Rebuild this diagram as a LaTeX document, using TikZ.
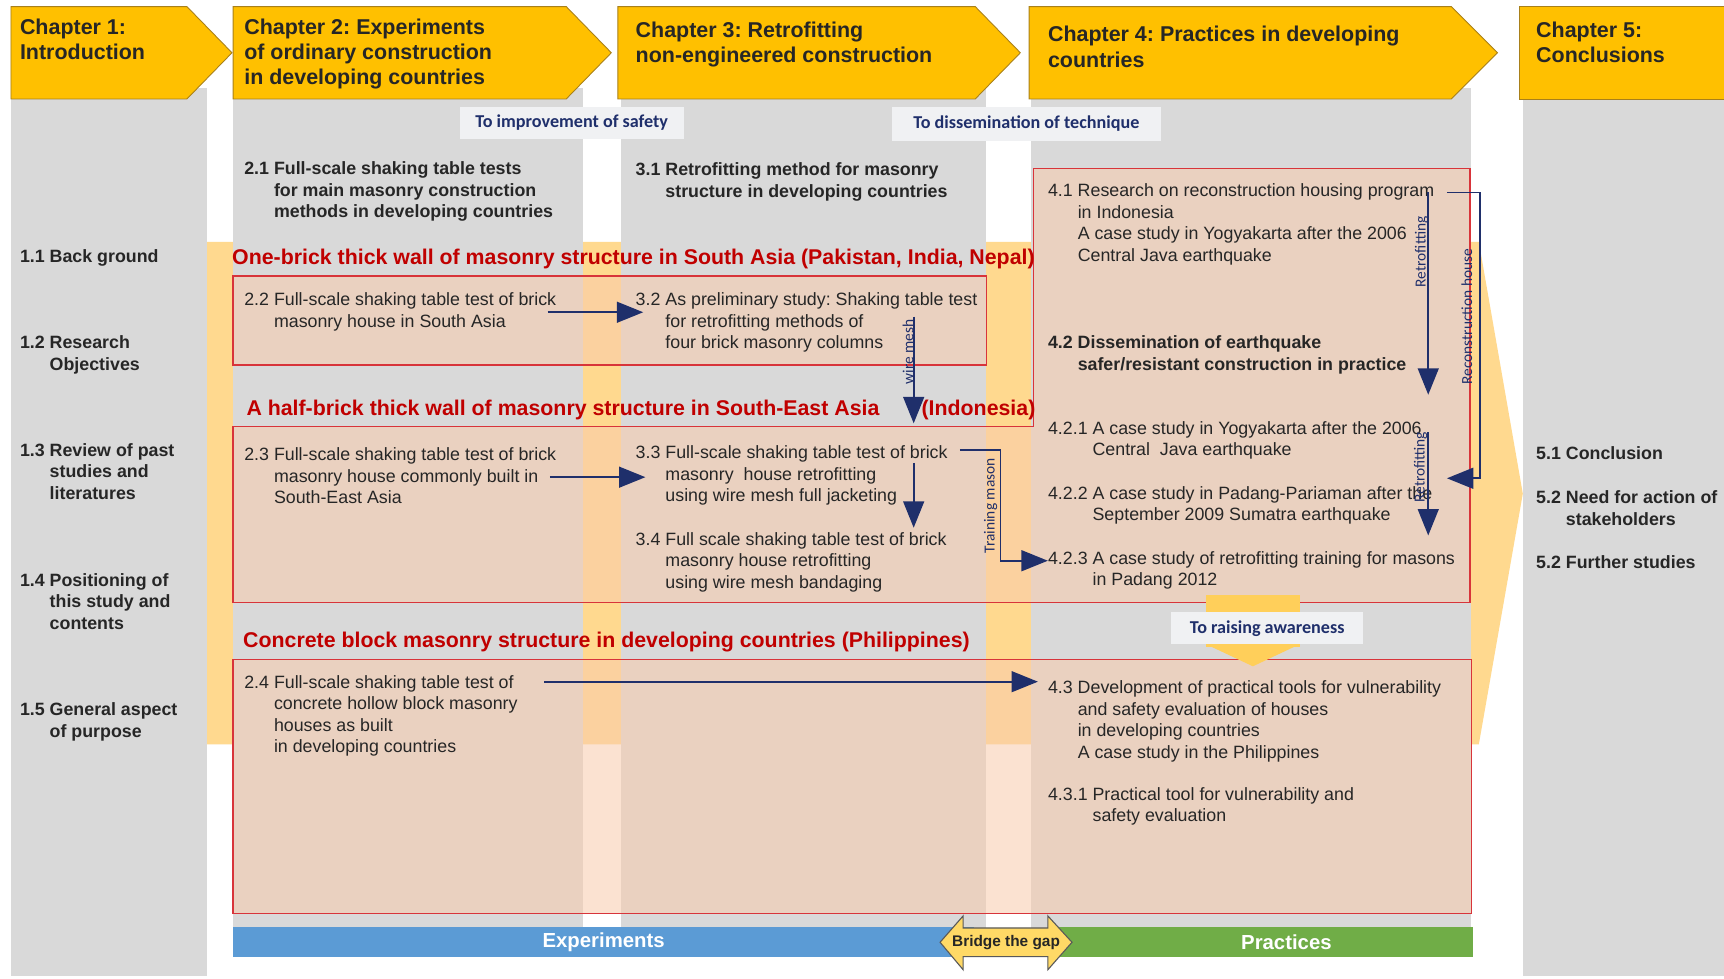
\documentclass[tikz,border=0pt]{standalone}
\usepackage{fontspec}
\setmainfont{Liberation Sans}
\newfontfamily\calib{Carlito}
\usetikzlibrary{arrows.meta}
\frenchspacing
\definecolor{gold}{HTML}{FFC000}
\definecolor{goldline}{HTML}{A8801A}
\definecolor{colgray}{HTML}{D9D9D9}
\definecolor{orangebg}{HTML}{FFD98F}
\definecolor{boxred}{HTML}{D8343A}
\definecolor{boxfill}{HTML}{F8CBAD}
\definecolor{headred}{HTML}{C00000}
\definecolor{navy}{HTML}{1F2F6B}
\definecolor{lblfill}{HTML}{F0F1F3}
\definecolor{txtc}{HTML}{262626}
\definecolor{barblue}{HTML}{5B9BD5}
\definecolor{bargreen}{HTML}{70AD47}
\definecolor{bridgefill}{HTML}{FFD966}
\definecolor{awarefill}{HTML}{FFCF5A}
\newcommand{\mytab}[1]{\begin{tabular}[t]{@{}l@{}}#1\end{tabular}}
\newcommand{\myitem}[1]{\begin{tabular}[t]{@{}l@{\ }l@{}}#1\end{tabular}}
\begin{document}
\begin{tikzpicture}[x=1pt,y=-1pt,line join=miter,
  chev/.style={fill=gold, draw=goldline, line width=0.8pt},
  rbox/.style={draw=boxred, line width=1.1pt, fill=boxfill, fill opacity=0.55},
  body/.style={anchor=base west, inner sep=0pt, text=txtc, font=\fontsize{16.2}{19.6}\selectfont},
  bbody/.style={body, font=\fontsize{16.2}{19.6}\selectfont\bfseries},
  chtxt/.style={anchor=base west, inner sep=0pt, text=txtc, font=\fontsize{19.5}{23}\selectfont\bfseries},
  headtxt/.style={anchor=base west, inner sep=0pt, text=headred, font=\fontsize{19.4}{23}\selectfont\bfseries},
  lbl/.style={fill=lblfill, text=navy, font=\calib\bfseries\fontsize{16.5}{19}\selectfont, inner sep=0pt},
  rotlbl/.style={text=navy, font=\calib\fontsize{14}{16}\selectfont, inner sep=0pt, rotate=90},
  arr/.style={draw=navy, line width=1.6pt, -{Triangle[width=19pt,length=24pt]}},
  bartxt/.style={text=white, inner sep=0pt, font=\fontsize{18.5}{20}\selectfont\bfseries}]
\useasboundingbox (0,0) rectangle (1568,890);
\fill[white] (0,0) rectangle (1568,890);
% big orange arrow
\fill[orangebg] (188,220) -- (1345,220) -- (1385,449) -- (1345,677) -- (188,677) -- cycle;
% gray columns
\fill[colgray] (10,80) rectangle (188,888);
\fill[colgray] (212,80) rectangle (530,857);
\fill[colgray] (565,80) rectangle (897,857);
\fill[colgray] (938,80) rectangle (1338,857);
\fill[colgray] (1385,80) rectangle (1575,888);
% chevrons
\path[chev] (10,6) -- (170,6) -- (211,48) -- (170,90) -- (10,90) -- cycle;
\path[chev] (212,6) -- (515,6) -- (556,48) -- (515,90) -- (212,90) -- cycle;
\path[chev] (562,6) -- (887,6) -- (928,48) -- (887,90) -- (562,90) -- cycle;
\path[chev] (936,6) -- (1320,6) -- (1362,48) -- (1320,90) -- (936,90) -- cycle;
\path[chev] (1382,6) -- (1580,6) -- (1580,90) -- (1382,90) -- cycle;
\node[chtxt] (c1) at (18,31) {\mytab{Chapter 1:\\Introduction}};
\node[chtxt] (c2) at (222,31) {\mytab{Chapter 2: Experiments\\of ordinary construction\\in developing countries}};
\node[chtxt] (c3) at (578,34) {\mytab{Chapter 3: Retrofitting\\non-engineered construction}};
\node[chtxt] (c4) at (953,38) {\mytab{Chapter 4: Practices in developing\\countries}};
\node[chtxt] (c5) at (1397,34) {\mytab{Chapter 5:\\Conclusions}};
% labels
\node[lbl, minimum width=204, minimum height=29] (l1) at (520,111.5) {To improvement of safety};
\node[lbl, minimum width=245, minimum height=31] (l2) at (933.5,112.5) {To dissemination of technique};
% red boxes
\path[rbox] (212,251) rectangle (897,332);
\path[rbox] (212,388) -- (940,388) -- (940,153) -- (1337,153) -- (1337,548) -- (212,548) -- cycle;
\path[rbox] (212,600) rectangle (1338,831);
% raising awareness arrow
\fill[awarefill] (1097,541) rectangle (1182,588);
\fill[awarefill] (1097,586) -- (1182,586) -- (1139.5,606) -- cycle;
\node[lbl, minimum width=175, minimum height=29] (l3) at (1152.5,571.5) {To raising awareness};
% red headings
\node[headtxt] (h1) at (211,241) {One-brick thick wall of masonry structure in South Asia (Pakistan, India, Nepal)};
\node[headtxt] (h2) at (224,378) {A half-brick thick wall of masonry structure in South-East Asia};
\node[headtxt] (h2b) at (838,378) {(Indonesia)};
\node[headtxt] (h3) at (221,589) {Concrete block masonry structure in developing countries (Philippines)};
% column 1
\node[bbody] (s11) at (18,239) {\myitem{1.1 & Back ground}};
\node[bbody] (s12) at (18,317) {\myitem{1.2 & Research\\ & Objectives}};
\node[bbody] (s13) at (18,415) {\myitem{1.3 & Review of past\\ & studies and\\ & literatures}};
\node[bbody] (s14) at (18,533) {\myitem{1.4 & Positioning of\\ & this study and\\ & contents}};
\node[bbody] (s15) at (18,651) {\myitem{1.5 & General aspect\\ & of purpose}};
% column 2
\node[bbody] (s21) at (222,159) {\myitem{2.1 & Full-scale shaking table tests\\ & for main masonry construction\\ & methods in developing countries}};
\node[body] (s22) at (222,278) {\myitem{2.2 & Full-scale shaking table test of brick\\ & masonry house in South Asia}};
\node[body] (s23) at (222,419) {\myitem{2.3 & Full-scale shaking table test of brick\\ & masonry house commonly built in\\ & South-East Asia}};
\node[body] (s24) at (222,626) {\myitem{2.4 & Full-scale shaking table test of\\ & concrete hollow block masonry\\ & houses as built\\ & in developing countries}};
% column 3
\node[bbody] (s31) at (578,160) {\myitem{3.1 & Retrofitting method for masonry\\ & structure in developing countries}};
\node[body] (s32) at (578,278) {\myitem{3.2 & As preliminary study: Shaking table test\\ & for retrofitting methods of\\ & four brick masonry columns}};
\node[body] (s33) at (578,417) {\myitem{3.3 & Full-scale shaking table test of brick\\ & masonry\ \ house retrofitting\\ & using wire mesh full jacketing}};
\node[body] (s34) at (578,496) {\myitem{3.4 & Full scale shaking table test of brick\\ & masonry house retrofitting\\ & using wire mesh bandaging}};
% column 4
\node[body] (s41) at (953,179) {\myitem{4.1 & Research on reconstruction housing program\\ & in Indonesia\\ & A case study in Yogyakarta after the 2006\\ & Central Java earthquake}};
\node[bbody] (s42) at (953,317) {\myitem{4.2 & Dissemination of earthquake\\ & safer/resistant construction in practice}};
\node[body] (s421) at (953,395) {\myitem{4.2.1 & A case study in Yogyakarta after the 2006\\ & Central\ \ Java earthquake}};
\node[body] (s422) at (953,454) {\myitem{4.2.2 & A case study in Padang-Pariaman after the\\ & September 2009 Sumatra earthquake}};
\node[body] (s423) at (953,513) {\myitem{4.2.3 & A case study of retrofitting training for masons\\ & in Padang 2012}};
\node[body] (s43) at (953,631) {\myitem{4.3 & Development of practical tools for vulnerability\\ & and safety evaluation of houses\\ & in developing countries\\ & A case study in the Philippines}};
\node[body] (s431) at (953,728) {\myitem{4.3.1 & Practical tool for vulnerability and\\ & safety evaluation}};
% column 5
\node[bbody] (s51) at (1397,418) {\myitem{5.1 & Conclusion}};
\node[bbody] (s52) at (1397,458) {\myitem{5.2 & Need for action of\\ & stakeholders}};
\node[bbody] (s53) at (1397,517) {\myitem{5.2 & Further studies}};
% rotated labels
\node[rotlbl] (wm) at (826,320) {wire mesh};
\node[rotlbl] (tm) at (901,460) {Training mason};
\node[rotlbl] (rf1) at (1293,229) {Retrofitting};
\node[rotlbl] (rh) at (1334,288) {Reconstruction house};
\node[rotlbl] (rf2) at (1292,425) {Retrofitting};
% connector end points
\coordinate (p22) at (498,284);  \coordinate (q32) at (585,284);
\coordinate (p23) at (500,434);  \coordinate (q33) at (587,434);
\coordinate (p24) at (495,620);  \coordinate (q43) at (944,620);
\coordinate (p32) at (831,288);  \coordinate (q33b) at (831,385);
\coordinate (p33) at (831,421);  \coordinate (q34) at (831,480);
\coordinate (p33t) at (873,409); \coordinate (k33t) at (910,409); \coordinate (q423) at (953,510);
\coordinate (p41) at (1299,175); \coordinate (q42) at (1299,359);
\coordinate (p41r) at (1316,175); \coordinate (k41a) at (1346,175); \coordinate (k41b) at (1346,435); \coordinate (q422) at (1316,435);
\coordinate (p421) at (1299,393); \coordinate (q423b) at (1299,487);
% connectors
\draw[arr] (p22) -- (q32);
\draw[arr] (p23) -- (q33);
\draw[arr] (p24) -- (q43);
\draw[arr] (p32) -- (q33b);
\draw[arr] (p33) -- (q34);
\draw[arr] (p33t) -- (k33t) |- (q423);
\draw[arr] (p41) -- (q42);
\draw[arr] (p41r) -- (k41a) -- (k41b) -- (q422);
\draw[arr] (p421) -- (q423b);
% bottom bars
\fill[barblue] (212,843) rectangle (886,870);
\fill[bargreen] (955,843) rectangle (1340,870);
\node[bartxt] (exp) at (549,857) {Experiments};
\node[bartxt] (prac) at (1170,857) {Practices};
\path[draw=gray!70!black, line width=1pt, fill=bridgefill] (855,857) -- (876,833) -- (876,844) -- (953,844) -- (953,833) -- (975,857) -- (953,882) -- (953,870) -- (876,870) -- (876,882) -- cycle;
\node[inner sep=0pt, text=txtc, font=\fontsize{14}{16}\selectfont\bfseries] (bg) at (915,857) {Bridge the gap};
\end{tikzpicture}
\end{document}
